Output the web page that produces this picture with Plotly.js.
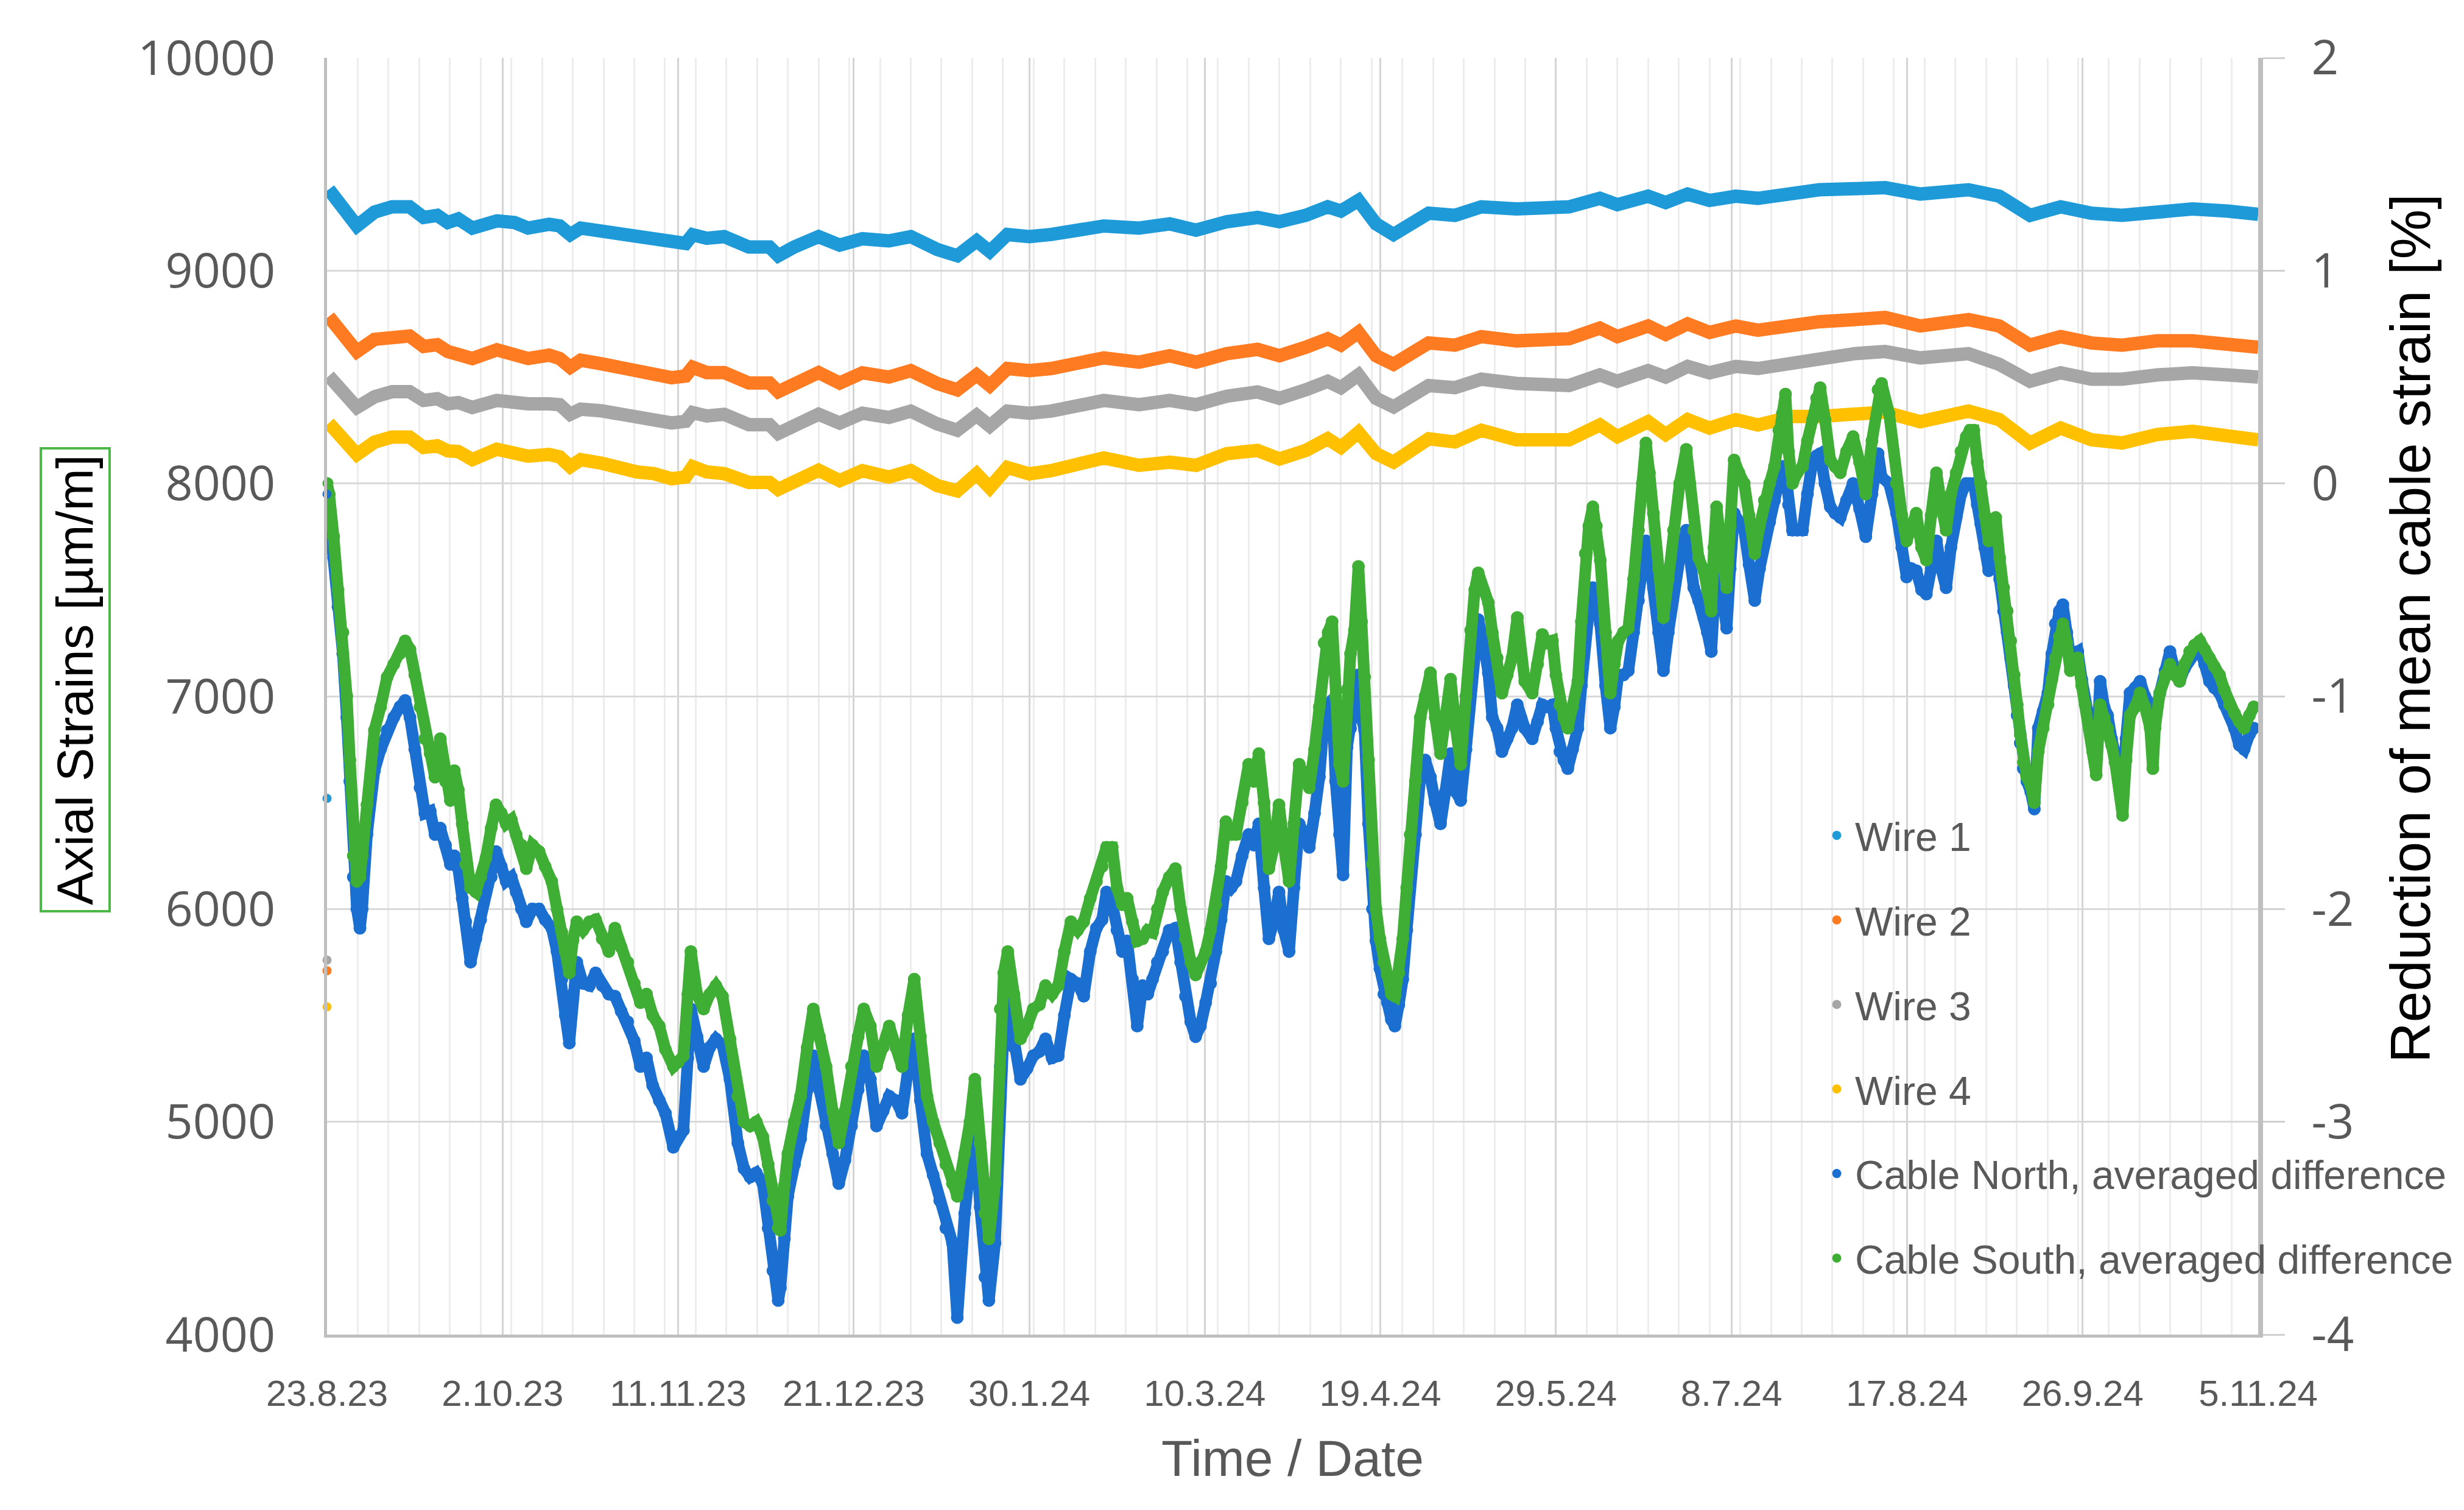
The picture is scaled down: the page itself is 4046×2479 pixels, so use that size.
<!DOCTYPE html>
<html>
<head>
<meta charset="utf-8">
<script src="https://cdn.plot.ly/plotly-3.0.1.min.js"></script>
<style>html,body{margin:0;padding:0;background:#fff;}#chart{width:4046px;height:2479px;}</style>
</head>
<body>
<div id="chart"></div>
<script>
// ---------- DATA ----------
const startDate = '2023-08-23';
const endDate = '2024-11-05';

// left axis ticks and right axis ticks
const leftTicks = [4000, 5000, 6000, 7000, 8000, 9000, 10000];
const rightTicks = [-4, -3, -2, -1, 0, 1, 2];
const rightTickText = ['-4', '-3', '-2', '-1', '0', '1', '2'];

// days since 23.8.23
const wireDays = [
  0.4, 2.8, 6.8, 10.8, 14.8, 18.8, 22.0, 25.1, 27.5, 29.9,
  33.1, 38.7, 42.7, 45.8, 50.6, 53.0, 55.4, 57.8, 62.6, 66.6,
  70.6, 74.5, 78.5, 81.7, 83.3, 86.5, 90.5, 96.1, 100.8, 102.8,
  106.4, 112.0, 116.8,
  122, 128, 133, 139, 143.6, 148, 151, 155, 160, 165,
  171, 177, 185, 192, 198, 205, 212, 217, 223, 228,
  231, 235, 239, 243, 251, 257, 263, 271, 283, 290,
  294, 301, 305, 310, 315, 321, 326, 334, 340, 348,
  355, 363, 374, 381, 388, 395, 402, 409, 417, 425,
  433, 440
];
const wire1 = [
  9382, 9316, 9210, 9275, 9300, 9300, 9250, 9260, 9226, 9243,
  9200, 9234, 9226, 9200, 9218, 9210, 9169, 9200, 9185, 9169,
  9152, 9152, 9128, 9128, 9169, 9152, 9160, 9111, 9111, 9070,
  9111, 9160, 9120,
  9150, 9140, 9160, 9100, 9070, 9140, 9090, 9170, 9160, 9170,
  9190, 9210, 9200, 9220, 9190, 9230, 9250, 9230, 9260, 9300,
  9280, 9330, 9220, 9170, 9270, 9260, 9300, 9290, 9300, 9340,
  9310, 9350, 9320, 9360, 9330, 9350, 9340, 9370, 9380, 9385,
  9390, 9360, 9380, 9350, 9260, 9300, 9270, 9260, 9280, 9290,
  9280, 9265
];
const wire2 = [
  8784, 8726, 8620, 8677, 8693, 8693, 8644, 8652, 8620, 8610,
  8587, 8628, 8612, 8587, 8603, 8587, 8546, 8579, 8562, 8546,
  8521, 8513, 8497, 8505, 8546, 8521, 8521, 8472, 8472, 8431,
  8472, 8521, 8472,
  8520, 8500, 8530, 8470, 8440, 8510, 8460, 8540, 8530, 8540,
  8560, 8590, 8570, 8600, 8570, 8610, 8630, 8600, 8640, 8680,
  8650, 8710, 8600, 8560, 8660, 8650, 8690, 8670, 8680, 8730,
  8690, 8740, 8700, 8750, 8710, 8740, 8720, 8750, 8760, 8770,
  8780, 8740, 8770, 8740, 8650, 8690, 8660, 8650, 8670, 8670,
  8660, 8640
];
const wire3 = [
  8505, 8448, 8357, 8407, 8431, 8431, 8390, 8398, 8374, 8380,
  8357, 8390, 8374, 8374, 8374, 8370, 8325, 8349, 8341, 8325,
  8308, 8300, 8284, 8292, 8333, 8317, 8325, 8276, 8276, 8235,
  8267, 8325, 8284,
  8330, 8310, 8340, 8280, 8250, 8320, 8270, 8340, 8330, 8340,
  8360, 8390, 8370, 8390, 8370, 8410, 8430, 8400, 8440, 8480,
  8450, 8510, 8400, 8360, 8460, 8450, 8490, 8470, 8460, 8510,
  8480, 8530, 8500, 8550, 8520, 8550, 8540, 8570, 8580, 8610,
  8620, 8590, 8610, 8560, 8480, 8520, 8490, 8490, 8510, 8520,
  8510, 8500
];
const wire4 = [
  8284, 8235, 8136, 8194, 8218, 8218, 8169, 8177, 8153, 8150,
  8112, 8161, 8145, 8128, 8136, 8125, 8079, 8112, 8095, 8071,
  8054, 8046, 8022, 8030, 8079, 8054, 8046, 8005, 8005, 7972,
  8005, 8062, 8013,
  8060, 8030, 8060, 7990, 7965, 8045, 7980, 8075, 8045, 8060,
  8085, 8120, 8085, 8100, 8085, 8140, 8155, 8115, 8155, 8210,
  8170, 8240, 8140, 8100, 8210, 8195, 8250, 8205, 8205, 8275,
  8220, 8290, 8230, 8300, 8260, 8300, 8275, 8315, 8315, 8330,
  8335, 8290, 8340, 8300, 8190, 8260, 8205, 8190, 8230, 8245,
  8220, 8205
];
// isolated first readings of the wires (Wire 1..4), plotted at 23.8.23
const wireFirstReading = [6520, 5710, 5760, 5540];

const cableDays = [
  0, 0.5, 1.5, 2.5, 3.6, 4.5, 5.2, 6.0, 6.8, 7.5,
  8.0, 9.1, 10.8, 12.2, 13.7, 15.2, 16.6, 17.8, 18.9, 20.0,
  21.2, 22.3, 23.5, 24.6, 25.8, 27.0, 28.1, 29.0, 29.9, 30.8,
  31.6, 32.7, 33.9, 35.0, 36.2, 37.4, 38.5, 39.7, 40.8, 42.0,
  43.1, 44.3, 45.4, 46.8, 48.3, 49.7, 51.2, 52.4, 53.5, 54.3,
  55.2, 56.0, 56.9, 58.3, 59.8, 61.2, 62.7, 64.2, 65.6, 67.0,
  68.5, 70.0, 71.4, 72.8, 74.2, 75.7, 77.1, 78.9, 80.0, 81.2,
  82.2, 82.9, 84.3, 85.8, 87.2, 88.6, 90.1, 91.8, 93.6, 95.0,
  96.4, 97.8, 99.3, 100.5, 101.6, 102.8, 103.3, 104.2, 105.0, 106.5,
  107.9, 109.4, 110.8, 112.2, 113.7, 115.2, 116.6, 118.0, 119.5, 121.0,
  122.3, 123.8, 125.2, 126.7, 128.1, 129.6, 131.0, 132.4, 133.8, 135.2,
  136.7, 138.1, 139.6, 141.0, 142.5, 143.6, 144.4, 145.3, 146.5, 147.6,
  148.8, 149.9, 150.8, 152.2, 153.4, 154.2, 155.1, 156.5, 158.0, 159.5,
  160.9, 162.3, 163.7, 165.2, 166.6, 168.0, 169.5, 171.0, 172.4, 173.9,
  175.3, 176.6, 177.6, 178.9, 180.0, 181.2, 182.3, 183.5, 184.6, 185.8,
  187.0, 188.1, 189.2, 190.4, 191.9, 193.3, 194.5, 195.6, 196.8, 197.9,
  199.0, 200.2, 201.3, 202.5, 203.7, 204.8, 206.0, 207.1, 208.5, 210.0,
  211.2, 212.3, 213.5, 214.6, 215.8, 216.9, 218.0, 219.2, 220.3, 221.5,
  222.7, 223.8, 225.0, 226.1, 227.2, 228.1, 229.0, 229.8, 230.7, 231.5,
  232.4, 233.2, 234.1, 235.0, 235.7, 236.4, 237.3, 238.2, 239.0, 239.9,
  240.8, 241.6, 242.5, 243.3, 244.2, 245.1, 246.0, 246.8, 248.0, 249.1,
  250.2, 251.4, 252.5, 253.7, 254.8, 256.0, 257.2, 258.3, 259.5, 260.6,
  261.5, 262.3, 263.5, 264.6, 265.5, 266.6, 267.7, 268.9, 270.0, 271.2,
  272.0, 272.9, 274.6, 275.8, 276.9, 278.0, 279.2, 280.0, 280.9, 281.8,
  282.7, 283.8, 285.0, 285.8, 286.7, 287.5, 288.4, 289.2, 290.1, 291.3,
  292.4, 293.3, 294.2, 295.4, 296.5, 297.7, 298.8, 299.7, 300.5, 301.3,
  302.2, 303.4, 304.5, 305.6, 306.8, 308.2, 309.7, 310.5, 311.4, 312.5,
  313.7, 314.5, 315.4, 316.0, 316.6, 317.7, 318.9, 319.7, 320.6, 321.7,
  322.9, 324.0, 325.3, 326.4, 327.5, 328.7, 329.8, 330.8, 331.6, 332.3,
  333.0, 333.9, 335.0, 336.2, 337.3, 338.5, 339.4, 340.2, 341.3, 342.5,
  343.6, 344.8, 346.2, 347.7, 349.2, 350.6, 352.0, 353.4, 354.2, 355.9,
  357.6, 358.8, 359.9, 361.0, 362.1, 363.3, 364.4, 365.5, 366.7, 367.8,
  368.9, 370.0, 371.2, 372.3, 373.5, 374.3, 375.2, 376.0, 376.8, 377.7,
  378.6, 379.4, 380.2, 381.1, 382.0, 382.8, 383.6, 384.4, 385.1, 385.8,
  386.5, 387.3, 388.2, 389.0, 389.9, 391.0, 392.1, 393.0, 393.8, 394.7,
  395.5, 396.4, 397.2, 398.1, 398.9, 399.8, 400.6, 401.5, 402.3, 403.1,
  404.0, 404.9, 405.7, 406.6, 407.4, 408.2, 409.1, 409.9, 410.8, 412.0,
  413.1, 414.2, 415.4, 416.0, 416.5, 417.6, 418.8, 419.9, 421.0, 422.1,
  423.2, 424.4, 425.5, 426.7, 427.8, 428.9, 430.0, 431.2, 432.3, 433.5,
  434.6, 435.7, 436.8, 438.0, 439.0
];
const cableSouth = [
  8000, 7950, 7750, 7500, 7300, 7000, 6700, 6250, 6130, 6150,
  6250, 6490, 6840, 6950, 7090, 7150, 7200, 7260, 7220, 7100,
  6950, 6800, 6730, 6620, 6800, 6600, 6510, 6650, 6560, 6400,
  6210, 6100, 6080, 6150, 6240, 6380, 6490, 6450, 6400, 6420,
  6350, 6300, 6190, 6300, 6270, 6200, 6130, 6000, 5890, 5800,
  5700, 5850, 5940, 5900, 5940, 5950, 5860, 5800, 5910, 5820,
  5750, 5650, 5560, 5600, 5500, 5450, 5340, 5260, 5280, 5310,
  5600, 5800, 5600, 5530, 5600, 5640, 5590, 5390, 5120, 5000,
  4980, 5000, 4930, 4800, 4630, 4500, 4490, 4700, 4850, 5000,
  5120, 5350, 5530, 5400, 5260, 5050, 4900, 5050, 5260, 5400,
  5530, 5450, 5260, 5350, 5450, 5350, 5260, 5500, 5670, 5400,
  5120, 5000, 4900, 4800, 4710, 4650, 4750, 4850, 5000, 5200,
  4900, 4570, 4450, 4710, 5530, 5700, 5800, 5600, 5390, 5450,
  5530, 5550, 5640, 5600, 5640, 5800, 5940, 5900, 5940, 6050,
  6130, 6200, 6290, 6290, 6100, 6020, 6050, 5940, 5850, 5860,
  5900, 5890, 6000, 6080, 6150, 6190, 6000, 5860, 5750, 5690,
  5750, 5800, 5900, 6020, 6200, 6410, 6350, 6350, 6500, 6680,
  6600, 6730, 6500, 6190, 6300, 6490, 6300, 6130, 6400, 6680,
  6620, 6570, 6750, 6950, 7250, 7300, 7350, 7000, 6680, 6600,
  7030, 7200, 7310, 7610, 7350, 7090, 6700, 6210, 6000, 5860,
  5750, 5690, 5600, 5590, 5700, 5860, 6100, 6350, 6600, 6900,
  7000, 7110, 6900, 6730, 6900, 7080, 6850, 6680, 7000, 7310,
  7500, 7580, 7500, 7440, 7300, 7180, 7015, 7100, 7180, 7370,
  7200, 7070, 7015, 7150, 7290, 7250, 7260, 7100, 6960, 6900,
  6850, 6950, 7070, 7350, 7670, 7800, 7890, 7800, 7640, 7300,
  7015, 7150, 7260, 7300, 7320, 7550, 7780, 8000, 8190, 8050,
  7860, 7600, 7370, 7550, 7780, 8000, 8160, 8000, 7780, 7650,
  7590, 7500, 7400, 7700, 7890, 7700, 7510, 7800, 8110, 8050,
  8000, 7850, 7670, 7800, 7920, 8000, 8080, 8250, 8330, 8420,
  8150, 8000, 8050, 8080, 8200, 8300, 8400, 8450, 8300, 8110,
  8080, 8050, 8150, 8220, 8100, 7950, 8200, 8440, 8470, 8330,
  8000, 7850, 7730, 7800, 7860, 7700, 7640, 7850, 8050, 7900,
  7780, 7950, 8050, 8150, 8220, 8250, 8250, 8100, 8000, 7850,
  7730, 7800, 7840, 7650, 7510, 7400, 7260, 7100, 6960, 6820,
  6690, 6620, 6580, 6500, 6740, 6850, 6960, 7080, 7180, 7280,
  7340, 7250, 7120, 7150, 7180, 7050, 6960, 6850, 6740, 6630,
  6960, 6900, 6850, 6770, 6690, 6600, 6440, 6700, 6910, 6950,
  7015, 6950, 6850, 6660, 6850, 7015, 7100, 7150, 7100, 7070,
  7150, 7210, 7240, 7260, 7220, 7180, 7140, 7100, 7030, 6960,
  6920, 6880, 6850, 6910, 6950
];
const cableNorth = [
  7950, 7850, 7650, 7420, 7200, 6900, 6600, 6150, 6000, 5910,
  6000, 6350, 6650, 6750, 6840, 6900, 6950, 6980, 6900, 6750,
  6570, 6450, 6460, 6350, 6380, 6300, 6210, 6250, 6190, 6050,
  5940, 5750, 5860, 5950, 6080, 6150, 6270, 6200, 6130, 6150,
  6080, 6000, 5940, 6000, 6000, 5950, 5910, 5800, 5670, 5500,
  5370, 5600, 5750, 5650, 5640, 5700, 5640, 5600, 5590, 5520,
  5470, 5380, 5260, 5300, 5170, 5100, 5040, 4880, 4930, 4960,
  5300, 5530, 5400, 5260, 5350, 5390, 5360, 5200, 4900, 4780,
  4740, 4760, 4710, 4500, 4300, 4160, 4220, 4450, 4650, 4800,
  4920, 5150, 5310, 5150, 4980, 4850, 4710, 4820, 4980, 5150,
  5310, 5200, 4980, 5050, 5120, 5100, 5040, 5250, 5390, 5100,
  4850, 4750, 4630, 4500, 4430, 4080, 4400, 4570, 4800, 4980,
  4600, 4270, 4160, 4430, 5260, 5450, 5560, 5350, 5200, 5250,
  5310, 5330, 5390, 5300, 5310, 5500, 5670, 5650, 5590, 5800,
  5910, 5950, 6080, 6020, 5900, 5800, 5850, 5670, 5450, 5640,
  5600, 5670, 5750, 5800, 5900, 5910, 5750, 5590, 5470, 5400,
  5450, 5560, 5650, 5800, 5950, 6130, 6100, 6130, 6250, 6350,
  6300, 6400, 6100, 5860, 5950, 6080, 5900, 5800, 6100, 6400,
  6350, 6290, 6450, 6620, 6900, 6950, 6980, 6600, 6350, 6160,
  6760, 6850, 6950, 7100, 6900, 6840, 6400, 6000, 5850, 5720,
  5600, 5560, 5480, 5450, 5550, 5670, 5900, 6130, 6350, 6620,
  6700, 6620, 6500, 6400, 6550, 6730, 6550, 6510, 6750, 7030,
  7200, 7360, 7250, 7110, 6900, 6850, 6740, 6800, 6850, 6960,
  6900, 6850, 6800, 6880, 6960, 6950, 6960, 6850, 6740, 6700,
  6660, 6750, 6850, 7050, 7290, 7400, 7510, 7450, 7340, 7050,
  6850, 6950, 7100, 7100, 7120, 7300, 7450, 7600, 7730, 7650,
  7510, 7300, 7120, 7300, 7510, 7650, 7780, 7650, 7510, 7450,
  7370, 7300, 7210, 7450, 7640, 7500, 7320, 7600, 7860, 7820,
  7780, 7620, 7450, 7600, 7730, 7820, 7920, 8000, 8080, 8050,
  7900, 7780, 7780, 7780, 7950, 8110, 8130, 8140, 8000, 7890,
  7860, 7840, 7920, 8000, 7880, 7750, 7950, 8140, 8030, 8000,
  7860, 7700, 7560, 7600, 7590, 7500, 7480, 7600, 7730, 7600,
  7510, 7700, 7840, 7950, 8000, 8000, 8000, 7900, 7810, 7700,
  7590, 7650, 7730, 7550, 7400, 7300, 7180, 7050, 6910, 6780,
  6660, 6600, 6550, 6470, 6850, 6930, 7015, 7200, 7340, 7400,
  7430, 7300, 7180, 7200, 7210, 7080, 6960, 6870, 6800, 6700,
  7070, 6950, 6910, 6800, 6710, 6650, 6580, 6800, 7015, 7040,
  7070, 7000, 6960, 6750, 6900, 7015, 7120, 7210, 7120, 7070,
  7130, 7180, 7200, 7230, 7150, 7070, 7040, 7015, 6960, 6910,
  6850, 6770, 6750, 6820, 6850
];

const seriesNames = ['Wire 1', 'Wire 2', 'Wire 3', 'Wire 4',
  'Cable North, averaged difference', 'Cable South, averaged difference'];
const seriesColors = ['#1f9ad8', '#ff7b22', '#a6a6a6', '#ffc000', '#1b6fd1', '#3fae35'];

// ---------- helpers ----------
const DAY = 86400000;
const t0 = Date.parse(startDate + 'T00:00:00Z');
function toDate(d) {
  return new Date(t0 + d * DAY).toISOString().slice(0, 19).replace('T', ' ');
}
const wireX = wireDays.map(toDate);
const cableX = cableDays.map(toDate);
const wires = [wire1, wire2, wire3, wire4];

const traces = [];
// wire lines
wires.forEach((w, i) => {
  traces.push({
    type: 'scatter', mode: 'lines', x: wireX, y: w,
    line: {color: seriesColors[i], width: 22},
    showlegend: false, hoverinfo: 'skip', xaxis: 'x', yaxis: 'y'
  });
});
// cables
[cableNorth, cableSouth].forEach((c, j) => {
  traces.push({
    type: 'scatter', mode: 'lines+markers', x: cableX, y: c,
    line: {color: seriesColors[4 + j], width: 19},
    marker: {color: seriesColors[4 + j], size: 21},
    showlegend: false, xaxis: 'x', yaxis: 'y'
  });
});
// legend-bearing point traces (first readings)
wires.forEach((w, i) => {
  traces.push({
    type: 'scatter', mode: 'markers', x: [toDate(0)], y: [wireFirstReading[i]],
    marker: {color: seriesColors[i], size: 15},
    name: seriesNames[i], legendgroup: 'g' + i, showlegend: true,
    cliponaxis: false, xaxis: 'x', yaxis: 'y'
  });
});
[cableNorth, cableSouth].forEach((c, j) => {
  traces.push({
    type: 'scatter', mode: 'markers', x: [cableX[0]], y: [c[0]],
    marker: {color: seriesColors[4 + j], size: 15},
    name: seriesNames[4 + j], legendgroup: 'g' + (4 + j), showlegend: true,
    cliponaxis: false, xaxis: 'x', yaxis: 'y'
  });
});
// dummy trace to activate the right axis
traces.push({type: 'scatter', mode: 'markers', x: [toDate(0)], y: [null],
  xaxis: 'x', yaxis: 'y2', showlegend: false, hoverinfo: 'skip'});

const W = 4046, H = 2479;
const mL = 537, mR = 338, mT = 95, mB = 288;
const pw = W - mL - mR, ph = H - mT - mB;
const px = x => (x - mL) / pw;
const py = y => (H - mB - y) / ph;

const tickGray = '#595959';
const layout = {
  width: W, height: H,
  margin: {l: mL, r: mR, t: mT, b: mB, pad: 0},
  paper_bgcolor: '#ffffff', plot_bgcolor: '#ffffff',
  showlegend: true,
  xaxis: {
    type: 'date', range: [startDate, endDate],
    tick0: startDate, dtick: 40 * DAY, tickformat: '%-d.%-m.%y',
    tickfont: {family: 'Liberation Sans, Arial, sans-serif', size: 60, color: tickGray},
    ticks: '', ticklabelstandoff: 40,
    showgrid: true, gridcolor: '#d4d4d4', gridwidth: 3,
    minor: {tick0: startDate, dtick: 7 * DAY, showgrid: true, gridcolor: '#ededed', gridwidth: 3, ticks: ''},
    showline: true, linecolor: '#bfbfbf', linewidth: 5,
    zeroline: false, fixedrange: true
  },
  yaxis: {
    range: [4000, 10000], tickmode: 'array', tickvals: leftTicks, tickformat: 'd',
    tickfont: {family: 'Open Sans, DejaVu Sans, sans-serif', size: 79, color: tickGray},
    ticks: '', ticklabelstandoff: 64,
    showgrid: true, gridcolor: '#d9d9d9', gridwidth: 3,
    showline: true, linecolor: '#bfbfbf', linewidth: 5,
    zeroline: false
  },
  yaxis2: {
    range: [-4, 2], tickmode: 'array', tickvals: rightTicks, ticktext: rightTickText,
    overlaying: 'y', side: 'right',
    tickfont: {family: 'Open Sans, DejaVu Sans, sans-serif', size: 78, color: tickGray},
    ticks: 'outside', ticklen: 36, tickwidth: 3, tickcolor: '#d0d0d0', ticklabelstandoff: 28,
    showgrid: false, showline: true, linecolor: '#bfbfbf', linewidth: 8,
    zeroline: false
  },
  legend: {
    x: px(2986), y: py(1322), xanchor: 'left', yanchor: 'top',
    bgcolor: 'rgba(0,0,0,0)', borderwidth: 0, itemwidth: 50,
    font: {family: 'Liberation Sans, Arial, sans-serif', size: 66, color: tickGray},
    tracegroupgap: 50, traceorder: 'grouped', itemclick: false
  },
  annotations: [
    {
      xref: 'paper', yref: 'paper', x: px(123), y: py(1116),
      xanchor: 'center', yanchor: 'middle', textangle: -90,
      text: 'Axial Strains [µm/m]', showarrow: false,
      font: {family: 'Liberation Sans, Arial, sans-serif', size: 83, color: '#000000'},
      bordercolor: '#4cb847', borderwidth: 4, borderpad: 8
    },
    {
      xref: 'paper', yref: 'paper', x: px(3958), y: py(1032),
      xanchor: 'center', yanchor: 'middle', textangle: -90,
      text: 'Reduction of mean cable strain [%]', showarrow: false,
      font: {family: 'Liberation Sans, Arial, sans-serif', size: 92, color: '#000000'}
    },
    {
      xref: 'paper', yref: 'paper', x: 0.5, y: py(2394),
      xanchor: 'center', yanchor: 'middle',
      text: 'Time / Date', showarrow: false,
      font: {family: 'Liberation Sans, Arial, sans-serif', size: 84, color: tickGray}
    }
  ]
};

Plotly.newPlot('chart', traces, layout, {staticPlot: true, displayModeBar: false});
</script>
</body>
</html>
